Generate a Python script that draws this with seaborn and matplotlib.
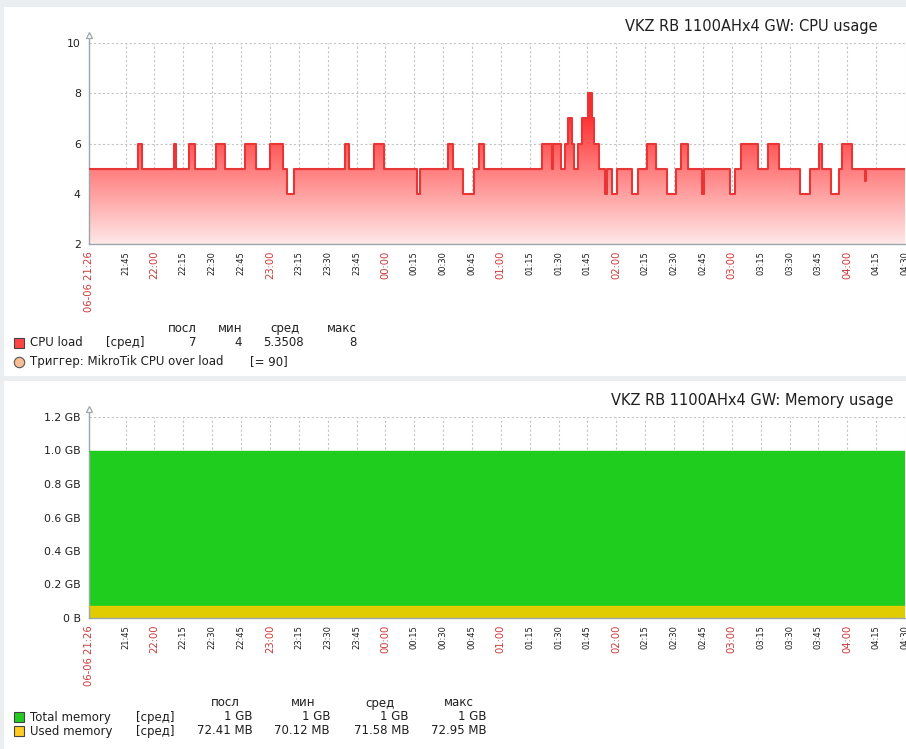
import numpy as np
import matplotlib
matplotlib.use("Agg")
import matplotlib.pyplot as plt
import seaborn as sns
from matplotlib.patches import Rectangle
from matplotlib.lines import Line2D

sns.set_theme(style="white")
plt.rcParams["font.family"] = ["DejaVu Sans"]

# ---------------- data ----------------
cpu_title = "VKZ RB 1100AHx4 GW: CPU usage"
mem_title = "VKZ RB 1100AHx4 GW: Memory usage"

# CPU load (step changes, clock time -> value)
cpu_times = ["21:26:00", "21:51:36", "21:53:42", "22:10:18", "22:11:18", "22:18:00", "22:21:06",
             "22:32:00", "22:36:42", "22:47:06", "22:53:00", "23:00:00", "23:06:48", "23:08:42",
             "23:12:30", "23:38:48", "23:41:00", "23:54:00", "23:59:12", "00:16:18", "00:17:48",
             "00:32:24", "00:35:00", "00:40:30", "00:46:12", "00:48:24", "00:51:00", "01:21:36",
             "01:26:30", "01:27:12", "01:31:12", "01:33:12", "01:35:06", "01:36:54", "01:38:00",
             "01:40:18", "01:42:24", "01:45:30", "01:47:12", "01:48:24", "01:51:00", "01:54:12",
             "01:55:00", "01:58:00", "02:00:30", "02:08:18", "02:11:24", "02:15:48", "02:20:24",
             "02:26:30", "02:31:06", "02:33:42", "02:37:24", "02:44:18", "02:45:30", "02:59:18",
             "03:01:36", "03:05:00", "03:13:42", "03:18:54", "03:24:36", "03:35:36", "03:40:30",
             "03:45:18", "03:46:42", "03:51:42", "03:55:42", "03:57:24", "04:02:24", "04:09:00",
             "04:09:30", "04:30:00"]
cpu_values = [5, 6, 5, 6, 5, 6, 5,
              6, 5, 6, 5, 6, 5, 4,
              5, 6, 5, 6, 5, 4, 5,
              6, 5, 4, 5, 6, 5, 6,
              5, 6, 5, 6, 7, 6, 5,
              6, 7, 8, 7, 6, 5, 4,
              5, 4, 5, 4, 5, 6, 5,
              4, 5, 6, 5, 4, 5, 4,
              5, 6, 5, 6, 5, 4, 5,
              6, 5, 4, 5, 6, 5, 4.5,
              5, 5]

# Memory (GB)
mem_times = ["21:26:00", "04:30:00"]
mem_total_gb = [1.0, 1.0]
mem_used_gb = [0.0707, 0.0707]

x_tick_labels = ["06-06 21:26", "21:45", "22:00", "22:15", "22:30", "22:45", "23:00", "23:15",
                 "23:30", "23:45", "00:00", "00:15", "00:30", "00:45", "01:00", "01:15", "01:30",
                 "01:45", "02:00", "02:15", "02:30", "02:45", "03:00", "03:15", "03:30", "03:45",
                 "04:00", "04:15", "04:30"]
cpu_yticks = [2, 4, 6, 8, 10]
mem_yticks = [0, 0.2, 0.4, 0.6, 0.8, 1.0, 1.2]
mem_ytick_labels = ["0 B", "0.2 GB", "0.4 GB", "0.6 GB", "0.8 GB", "1.0 GB", "1.2 GB"]

cpu_legend_header = ["посл", "мин", "сред", "макс"]
cpu_legend_values = ["7", "4", "5.3508", "8"]
mem_legend_header = ["посл", "мин", "сред", "макс"]
mem_total_stats = ["1 GB", "1 GB", "1 GB", "1 GB"]
mem_used_stats = ["72.41 MB", "70.12 MB", "71.58 MB", "72.95 MB"]

# ---------------- helpers ----------------
W, H = 906, 749
START = 21 * 60 + 26


def to_min(t):
    parts = [int(p) for p in t.split(":")]
    tot = parts[0] * 60 + parts[1] + (parts[2] / 60 if len(parts) > 2 else 0)
    if tot < START - 1e-9:
        tot += 24 * 60
    return tot - START


def tick_pos(lbl):
    return to_min(lbl.split(" ")[-1])


def fx(x):
    return x / W


def fy(y):
    return 1 - y / H


BG = "#ebeef0"
SPINE = "#9ea6ad"
GRID = "#c4c4c4"
RED_LBL = "#cc3a3a"
TXT = "#1f1f1f"
XMAX = to_min("04:30")

fig = plt.figure(figsize=(W / 100, H / 100), dpi=100, facecolor=BG)
fig.add_artist(Rectangle((fx(4), fy(376)), 1, (376 - 7) / H, transform=fig.transFigure,
                         facecolor="white", edgecolor="none", zorder=0))
fig.add_artist(Rectangle((fx(4), 0), 1, (H - 381) / H, transform=fig.transFigure,
                         facecolor="white", edgecolor="none", zorder=0))


def style_axes(ax, ymin, ymax, yticks, ylabels):
    ax.set_facecolor("none")
    ax.set_xlim(0, XMAX)
    ax.set_ylim(ymin, ymax)
    ax.set_yticks(yticks)
    ax.set_yticklabels(ylabels)
    pos = [tick_pos(l) for l in x_tick_labels]
    ax.set_xticks(pos)
    ax.set_xticklabels(x_tick_labels, rotation=90)
    for i, t in enumerate(ax.get_xticklabels()):
        lbl = x_tick_labels[i]
        major = (i == 0) or lbl.endswith(":00")
        t.set_color(RED_LBL if major else TXT)
        t.set_fontsize(7.2 if major else 6.0)
        t.set_va("top")
    for t in ax.get_yticklabels():
        t.set_fontsize(7.8)
        t.set_color(TXT)
    ax.tick_params(axis="both", length=3, width=0.8, color=SPINE, pad=3)
    ax.tick_params(axis="x", pad=2)
    ax.grid(True, color=GRID, linestyle=(0, (2, 2)), linewidth=0.8)
    ax.set_axisbelow(True)
    for s in ["top", "right"]:
        ax.spines[s].set_visible(False)
    for s in ["left", "bottom"]:
        ax.spines[s].set_color(SPINE)
        ax.spines[s].set_linewidth(1.0)
    ax.plot([0, 0], [1.0, 1.03], transform=ax.transAxes, color=SPINE, lw=1.0, clip_on=False)
    ax.plot([0], [1.04], transform=ax.transAxes, marker="^", markersize=5, mfc="white",
            mec=SPINE, mew=0.9, clip_on=False)
    ax.set_xlabel("")
    ax.set_ylabel("")


# ---------------- CPU chart ----------------
ax1 = fig.add_axes([fx(89), fy(244), (905 - 89) / W, 201 / H])
cx = np.array([to_min(t) for t in cpu_times])
cv = np.array(cpu_values, dtype=float)

poly = ax1.fill_between(cx, 2, cv, step="post", facecolor="none", edgecolor="none")
vv = np.linspace(2, 10, 400)
gb = np.clip(232 - 36 * (vv - 2), 40, 255) / 255.0
img = np.zeros((400, 1, 4))
img[:, 0, 0] = 1.0
img[:, 0, 1] = gb
img[:, 0, 2] = gb
img[:, 0, 3] = 1.0
im = ax1.imshow(img, extent=[0, XMAX, 2, 10], origin="lower", aspect="auto", zorder=1,
                interpolation="bilinear")
im.set_clip_path(poly.get_paths()[0], ax1.transData)
sns.lineplot(x=cx, y=cv, ax=ax1, drawstyle="steps-post", color="#e83636", lw=1.5,
             estimator=None, sort=False, zorder=3)
style_axes(ax1, 2, 10, cpu_yticks, [str(v) for v in cpu_yticks])
fig.text(fx(878), fy(26), cpu_title, ha="right", va="center", fontsize=10.5, color=TXT)

# CPU legend
LFS = 8.5
hdr_x = [182, 230, 285, 342]
val_x = [197, 242, 304, 357]
for h, x in zip(cpu_legend_header, hdr_x):
    fig.text(fx(x), fy(329), h, ha="center", va="center", fontsize=LFS, color=TXT)
fig.add_artist(Rectangle((fx(14), fy(348)), 10 / W, 10 / H, transform=fig.transFigure,
                         facecolor="#ff4444", edgecolor="#444444", lw=0.8))
fig.text(fx(30), fy(343), "CPU load", ha="left", va="center", fontsize=LFS, color=TXT)
fig.text(fx(106), fy(343), "[сред]", ha="left", va="center", fontsize=LFS, color=TXT)
for v, x in zip(cpu_legend_values, val_x):
    fig.text(fx(x), fy(343), v, ha="right", va="center", fontsize=LFS, color=TXT)
fig.add_artist(Line2D([fx(19)], [fy(362)], transform=fig.transFigure, marker="o",
                      markersize=7.5, mfc="#f8bd92", mec="#555555", mew=0.8))
fig.text(fx(30), fy(362), "Триггер: MikroTik CPU over load", ha="left", va="center",
         fontsize=LFS, color=TXT)
fig.text(fx(250), fy(362), "[= 90]", ha="left", va="center", fontsize=LFS, color=TXT)

# ---------------- Memory chart ----------------
ax2 = fig.add_axes([fx(89), fy(618), (905 - 89) / W, 201 / H])
mx = np.array([to_min(t) for t in mem_times])
ax2.fill_between(mx, 0, mem_total_gb, facecolor="#1ecd1e", edgecolor="none", zorder=1)
ax2.fill_between(mx, 0, mem_used_gb, facecolor="#e0cc00", edgecolor="none", zorder=2)
sns.lineplot(x=mx, y=mem_total_gb, ax=ax2, color="#1ecd1e", lw=1.0, estimator=None, zorder=3)
sns.lineplot(x=mx, y=mem_used_gb, ax=ax2, color="#e0cc00", lw=1.0, estimator=None, zorder=3)
style_axes(ax2, 0, 1.2, mem_yticks, mem_ytick_labels)
ax2.grid(True, color=GRID, linestyle=(0, (2, 2)), linewidth=0.8)
fig.text(fx(893), fy(400), mem_title, ha="right", va="center", fontsize=10.5, color=TXT)

# Memory legend
mhdr_x = [225, 303, 380, 459]
mval_x = [253, 330, 409, 487]
for h, x in zip(mem_legend_header, mhdr_x):
    fig.text(fx(x), fy(703), h, ha="center", va="center", fontsize=LFS, color=TXT)
rows = [("Total memory", "#22cc22", mem_total_stats, 717),
        ("Used memory", "#ffcc22", mem_used_stats, 731)]
for name, col, stats, y in rows:
    fig.add_artist(Rectangle((fx(14), fy(y + 5)), 10 / W, 10 / H, transform=fig.transFigure,
                             facecolor=col, edgecolor="#444444", lw=0.8))
    fig.text(fx(30), fy(y), name, ha="left", va="center", fontsize=LFS, color=TXT)
    fig.text(fx(136), fy(y), "[сред]", ha="left", va="center", fontsize=LFS, color=TXT)
    for v, x in zip(stats, mval_x):
        fig.text(fx(x), fy(y), v, ha="right", va="center", fontsize=LFS, color=TXT)

fig.savefig("out.png", dpi=100, facecolor=BG)
